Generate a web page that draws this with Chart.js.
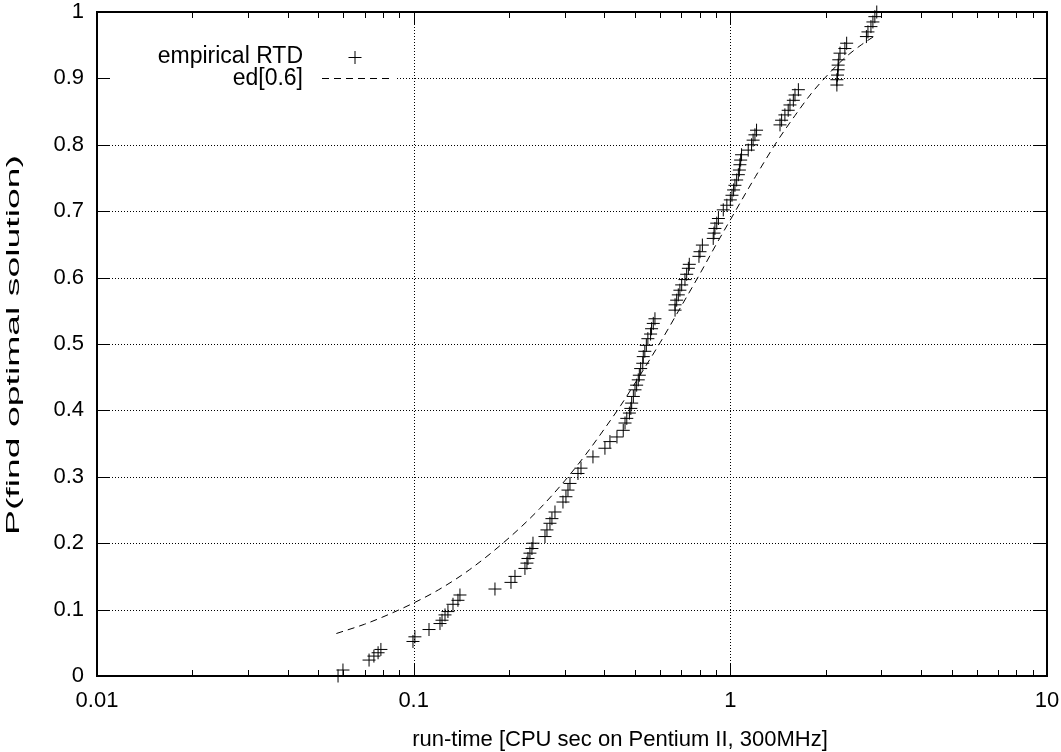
<!DOCTYPE html>
<html>
<head>
<meta charset="utf-8">
<script src="https://cdn.jsdelivr.net/npm/chart.js@4"></script>
<style>
  html, body { margin: 0; padding: 0; background: #fff; }
  #wrap { width: 1061px; height: 752px; }
</style>
</head>
<body>
<div id="wrap"><canvas id="rtd"></canvas></div>
<script>
// empirical run-time distribution
const empX = [0.0577, 0.0598, 0.0723, 0.0749, 0.0772, 0.0788, 0.0995, 0.1009, 0.1118, 0.1211, 0.1229, 0.1256, 0.1283, 0.1331, 0.1380, 0.1400,
  0.1806, 0.2029, 0.2089, 0.2246, 0.2279, 0.2296, 0.2329, 0.2363, 0.2381, 0.2598, 0.2636, 0.2694, 0.2733, 0.2794, 0.2961, 0.3026, 0.3071, 0.3116, 0.3303, 0.3376,
  0.3683, 0.4018, 0.4167, 0.4385,
  0.459, 0.465, 0.471, 0.480, 0.485, 0.488, 0.494, 0.500, 0.506, 0.512, 0.516, 0.521, 0.529, 0.531, 0.537, 0.543, 0.549, 0.560, 0.564, 0.571, 0.578,
  0.669, 0.669, 0.677, 0.685, 0.693, 0.702, 0.719, 0.728, 0.737, 0.742,
  0.796, 0.802, 0.816,
  0.883, 0.888, 0.894, 0.906, 0.917,
  0.950, 0.975, 1.000, 1.012, 1.024, 1.034, 1.047, 1.060, 1.068, 1.072, 1.078, 1.085,
  1.139, 1.167, 1.180, 1.196, 1.210,
  1.435, 1.452, 1.487, 1.523, 1.543, 1.581, 1.600, 1.640,
  2.17, 2.17, 2.18, 2.19, 2.19, 2.20, 2.22, 2.30, 2.33,
  2.69, 2.72, 2.78, 2.82, 2.86, 2.90, 2.97];
const empY = [0, 0.009, 0.024, 0.030, 0.035, 0.040, 0.052, 0.059, 0.070, 0.079, 0.084, 0.092, 0.097, 0.108, 0.114, 0.122,
  0.131, 0.141, 0.150, 0.162, 0.170, 0.177, 0.185, 0.192, 0.200, 0.210, 0.220, 0.230, 0.237, 0.247, 0.262, 0.270, 0.280, 0.290, 0.305, 0.313,
  0.330, 0.343, 0.353, 0.360,
  0.370, 0.381, 0.388, 0.396, 0.403, 0.411, 0.421, 0.431, 0.438, 0.446, 0.453, 0.463, 0.471, 0.481, 0.489, 0.498, 0.508, 0.515, 0.523, 0.531, 0.538,
  0.551, 0.559, 0.566, 0.574, 0.581, 0.589, 0.597, 0.605, 0.614, 0.620,
  0.632, 0.639, 0.649,
  0.659, 0.667, 0.674, 0.682, 0.689,
  0.702, 0.709, 0.717, 0.724, 0.732, 0.739, 0.747, 0.755, 0.762, 0.770, 0.777, 0.785,
  0.792, 0.800, 0.807, 0.815, 0.822,
  0.830, 0.837, 0.845, 0.852, 0.860, 0.867, 0.875, 0.883,
  0.890, 0.898, 0.905, 0.913, 0.920, 0.928, 0.938, 0.945, 0.953,
  0.963, 0.970, 0.978, 0.985, 0.993, 1.0];

// fitted exponential distribution ed[0.6], sampled from the dashed curve
const edX = [0.057, 0.07, 0.08, 0.1, 0.12, 0.15, 0.2, 0.25, 0.3, 0.35, 0.4, 0.45, 0.5, 0.6, 0.7, 0.8, 0.9, 1.0, 1.2, 1.4, 1.6, 1.8, 2.0, 2.3, 2.6, 2.9];
const edY = [0.064, 0.078, 0.089, 0.110, 0.130, 0.160, 0.208, 0.252, 0.294, 0.334, 0.372, 0.407, 0.441, 0.502, 0.557, 0.605, 0.649, 0.687, 0.752, 0.804, 0.844, 0.877, 0.902, 0.931, 0.951, 0.966];

const seriesNames = ['empirical RTD', 'ed[0.6]'];
const xTickVals = [0.01, 0.1, 1, 10];
const xTickLabels = ['0.01', '0.1', '1', '10'];
const xMinorVals = [0.02, 0.03, 0.04, 0.05, 0.06, 0.07, 0.08, 0.09, 0.2, 0.3, 0.4, 0.5, 0.6, 0.7, 0.8, 0.9, 2, 3, 4, 5, 6, 7, 8, 9];
const yTickVals = [0, 0.1, 0.2, 0.3, 0.4, 0.5, 0.6, 0.7, 0.8, 0.9, 1];
const yTickLabels = ['0', '0.1', '0.2', '0.3', '0.4', '0.5', '0.6', '0.7', '0.8', '0.9', '1'];
const xTitle = 'run-time [CPU sec on Pentium II, 300MHz]';
const yTitle = 'P(find optimal solution)';

const FONT = '"Liberation Sans", Arial, Helvetica, sans-serif';

let empPts = empX.map((v, i) => ({ x: v, y: empY[i] }));
let edPts = edX.map((v, i) => ({ x: v, y: edY[i] }));

// gnuplot-ish frame: dotted grid, inward ticks, border, key, axis titles
let gnuFrame = {
  id: 'gnuFrame',
  beforeDatasetsDraw(chart) {
    let ctx = chart.ctx, a = chart.chartArea;
    let xs = chart.scales.x, ys = chart.scales.y;
    let seg = function (x1, y1, x2, y2) {
      ctx.beginPath(); ctx.moveTo(x1, y1); ctx.lineTo(x2, y2); ctx.stroke();
    };
    ctx.save();
    ctx.strokeStyle = '#000';
    ctx.lineWidth = 1;
    ctx.setLineDash([1, 2]);
    xTickVals.forEach(v => {
      let px = Math.round(xs.getPixelForValue(v)) + 0.5;
      if (px > a.left + 2 && px < a.right - 2) seg(px, a.top, px, a.bottom);
    });
    yTickVals.forEach(v => {
      let py = Math.round(ys.getPixelForValue(v)) + 0.5;
      if (py > a.top + 2 && py < a.bottom - 2) seg(a.left, py, a.right, py);
    });
    ctx.setLineDash([]);
    // ticks
    xTickVals.forEach(v => {
      let px = Math.round(xs.getPixelForValue(v)) + 0.5;
      seg(px, a.bottom, px, a.bottom - 13);
      seg(px, a.top, px, a.top + 13);
    });
    xMinorVals.forEach(v => {
      let px = Math.round(xs.getPixelForValue(v)) + 0.5;
      seg(px, a.bottom, px, a.bottom - 6);
      seg(px, a.top, px, a.top + 6);
    });
    yTickVals.forEach(v => {
      let py = Math.round(ys.getPixelForValue(v)) + 0.5;
      seg(a.left, py, a.left + 13, py);
      seg(a.right, py, a.right - 13, py);
    });
    // key area hides the grid behind it
    ctx.fillStyle = '#fff';
    ctx.fillRect(a.left + 14, 42, 396 - a.left - 14, 48);
    ctx.lineWidth = 2;
    ctx.strokeRect(a.left, a.top, a.right - a.left, a.bottom - a.top);
    ctx.restore();
  },
  afterDraw(chart) {
    let ctx = chart.ctx;
    ctx.save();
    ctx.fillStyle = '#000';
    ctx.strokeStyle = '#000';
    ctx.lineWidth = 1;
    ctx.font = '23px ' + FONT;
    ctx.textAlign = 'right';
    ctx.textBaseline = 'middle';
    // key
    ctx.fillText(seriesNames[0], 303, 57);
    ctx.beginPath();
    ctx.moveTo(348.5, 57.5); ctx.lineTo(361.5, 57.5);
    ctx.moveTo(355, 51); ctx.lineTo(355, 64);
    ctx.stroke();
    ctx.fillText(seriesNames[1], 303, 79);
    ctx.setLineDash([7, 5]);
    ctx.beginPath();
    ctx.moveTo(322, 78.5); ctx.lineTo(390, 78.5);
    ctx.stroke();
    ctx.setLineDash([]);
    // x label sits right of centre in the original
    ctx.font = '22px ' + FONT;
    ctx.textAlign = 'center';
    ctx.fillText(xTitle, 620, 740);
    // y label, stretched along its length like the original
    ctx.font = '19px ' + FONT;
    let w = ctx.measureText(yTitle).width;
    ctx.translate(14, 345);
    ctx.rotate(-Math.PI / 2);
    ctx.scale(380 / w, 1);
    ctx.fillText(yTitle, 0, 0);
    ctx.restore();
  }
};

new Chart(document.getElementById('rtd'), {
  type: 'scatter',
  data: {
    datasets: [
      {
        label: seriesNames[0],
        data: empPts,
        pointStyle: 'cross',
        pointRadius: 6.5,
        pointHoverRadius: 6.5,
        borderColor: '#000',
        backgroundColor: '#000',
        pointBorderWidth: 1,
        showLine: false,
        clip: false
      },
      {
        label: seriesNames[1],
        data: edPts,
        showLine: true,
        pointRadius: 0,
        borderColor: '#000',
        borderWidth: 1,
        borderDash: [7, 5],
        cubicInterpolationMode: 'monotone',
        fill: false
      }
    ]
  },
  options: {
    responsive: true,
    maintainAspectRatio: false,
    animation: false,
    layout: { autoPadding: false, padding: { left: 0, top: 12, right: 14, bottom: 0 } },
    plugins: { legend: { display: false }, tooltip: { enabled: false } },
    scales: {
      x: {
        type: 'logarithmic',
        position: 'bottom',
        min: 0.01,
        max: 10,
        afterBuildTicks: s => { s.ticks = xTickVals.map(v => ({ value: v })); },
        afterFit: s => { s.height = 76; s.paddingLeft = 0; s.paddingRight = 0; },
        grid: { display: false, drawTicks: false },
        border: { display: false },
        ticks: {
          autoSkip: false,
          maxRotation: 0,
          padding: 12,
          color: '#000',
          font: { family: FONT, size: 22 },
          callback: v => xTickLabels[xTickVals.indexOf(v)] ?? ''
        },
        title: { display: false, text: xTitle }
      },
      y: {
        min: 0,
        max: 1,
        afterBuildTicks: s => { s.ticks = yTickVals.map(v => ({ value: v })); },
        afterFit: s => { s.width = 97; s.paddingTop = 0; s.paddingBottom = 0; },
        grid: { display: false, drawTicks: false },
        border: { display: false },
        ticks: {
          padding: 13,
          color: '#000',
          font: { family: FONT, size: 22 },
          callback: (v, i) => yTickLabels[i]
        },
        title: { display: false, text: yTitle }
      }
    }
  },
  plugins: [gnuFrame]
});
</script>
</body>
</html>
